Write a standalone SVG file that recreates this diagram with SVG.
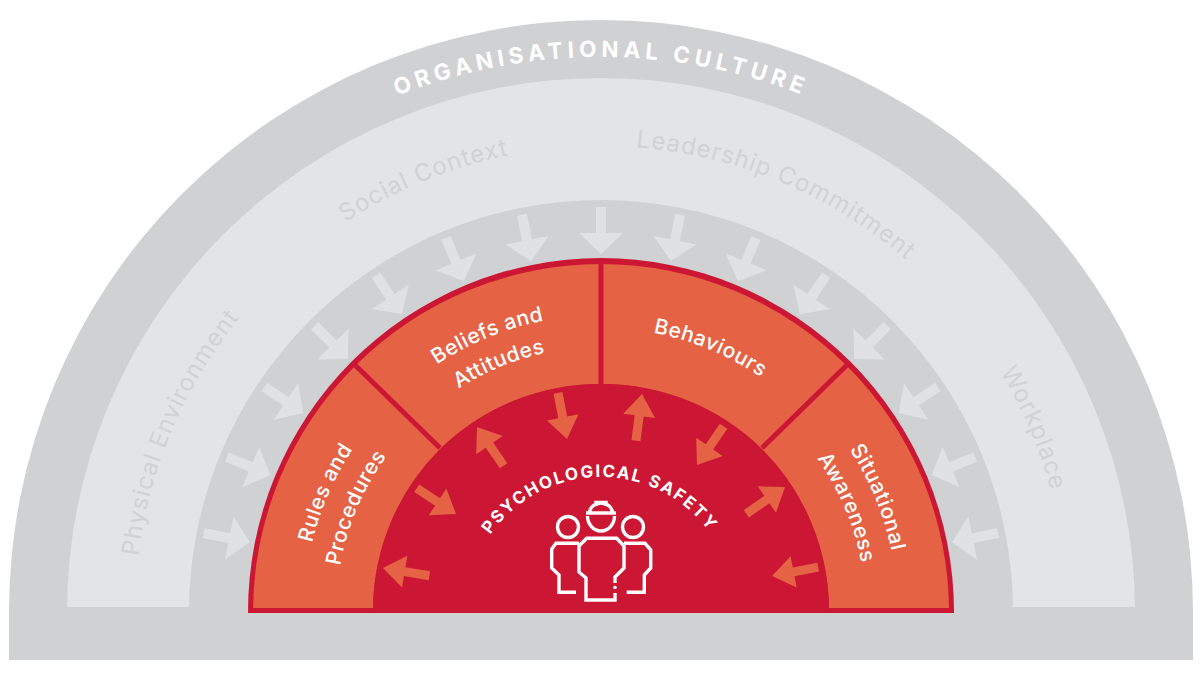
<svg xmlns="http://www.w3.org/2000/svg" xmlns:xlink="http://www.w3.org/1999/xlink" width="1200" height="680" viewBox="0 0 1200 680">
<style>
text{font-family:"Inter","Noto Sans",sans-serif}
.band{fill:#e3e4e6}
.seg{fill:#e66245}
.div{stroke:#cb1733;stroke-width:5;fill:none}
.ctx{fill:#d0d2d4;font-size:24px;letter-spacing:1px;text-anchor:middle}
.lbl{fill:#fff;font-size:21px;font-weight:500;letter-spacing:.5px;text-anchor:middle}
.ic{fill:none;stroke:#fff;stroke-width:3.400}
.ga{fill:#e0e1e3}
.oa{fill:#e66245}
</style>
<defs>
<path id="r555" d="M46,612A555,555 0 0 1 1156,612"/>
<path id="r466" d="M135,612A466,466 0 0 1 1067,612"/>
<path id="r297" d="M304,612A297,297 0 0 1 898,612"/>
<path id="r265" d="M336,612A265,265 0 0 1 866,612"/>
<path id="r284" d="M317,612A284,284 0 0 1 885,612"/>
<path id="r135" d="M466,612A135,135 0 0 1 736,612"/>
<polygon id="gray" points="601,254 579,233 596,233 596,207 606,207 606,233 623,233"/>
<polygon id="orange" points="0,0 -22,-16 -22,-4.5 -47,-4.5 -47,4.5 -22,4.5 -22,16"/>
</defs>

<g id="organisational-culture">
<path fill="#cfd1d3" d="M9,660V612A592,592 0 0 1 1193,612V660Z"/>
<text font-size="22.500" font-weight="700" fill="#fff" letter-spacing="4.800" text-anchor="middle"><textPath href="#r555" startOffset="50%">ORGANISATIONAL CULTURE</textPath></text>
</g>

<g id="context-band">
<path class="band" d="M67,607V612A534,534 0 0 1 1135,612V607H1013V612A412,412 0 0 0 189,612V607Z"/>
<text class="ctx"><textPath href="#r466" startOffset="12.8%">Physical Environment</textPath></text>
<text class="ctx"><textPath href="#r466" startOffset="37.6%">Social Context</textPath></text>
<text class="ctx"><textPath href="#r466" startOffset="62.6%">Leadership Commitment</textPath></text>
<text class="ctx"><textPath href="#r466" startOffset="87.2%">Workplace</textPath></text>
</g>

<g id="core-disc">
<path fill="#cb1733" d="M248,613V612A353,354 0 0 1 954,612V613Z"/>
</g>

<g id="rules-and-procedures">
<path class="seg" d="M253,608V612A348,348 0 0 1 355,366L440,449A228,228 0 0 0 373,608Z"/>
<text class="lbl"><textPath href="#r297" startOffset="13%">Rules and</textPath></text>
<text class="lbl"><textPath href="#r265" startOffset="12.8%">Procedures</textPath></text>
</g>
<g id="beliefs-and-attitudes">
<path class="seg" d="M355,366A348,348 0 0 1 601,264V384A228,228 0 0 0 440,449Z"/>
<text class="lbl"><textPath href="#r297" startOffset="37.6%">Beliefs and</textPath></text>
<text class="lbl"><textPath href="#r265" startOffset="37.6%">Attitudes</textPath></text>
</g>
<g id="behaviours">
<path class="seg" d="M601,264A348,348 0 0 1 847,366L762,449A228,228 0 0 0 601,384Z"/>
<text class="lbl"><textPath href="#r284" startOffset="62.5%">Behaviours</textPath></text>
</g>
<g id="situational-awareness">
<path class="seg" d="M847,366A348,348 0 0 1 949,612V608H829A228,228 0 0 0 762,449Z"/>
<text class="lbl"><textPath href="#r297" startOffset="87.5%">Situational</textPath></text>
<text class="lbl"><textPath href="#r265" startOffset="87.2%">Awareness</textPath></text>
</g>
<g id="dividers">
<path class="div" d="M601,259V384M353,363L440,448M849,363L762,448"/>
</g>

<g id="psychological-safety">
<path fill="#cb1733" d="M373,612A228,228 0 0 1 829,612Z"/>
<text font-size="17" font-weight="700" fill="#fff" letter-spacing="1.900" text-anchor="middle"><textPath href="#r135" startOffset="49.6%">PSYCHOLOGICAL SAFETY</textPath></text>
<g class="ic">
<circle cx="568" cy="527" r="10.5"/>
<circle cx="633" cy="527" r="10.5"/>
<path d="M587.500,516A13.500,15 0 0 0 614.500,516"/>
<path d="M586,513H616M589.500,513A11.500,10 0 0 1 612.500,513M596,506V502.500H606V506"/>
<path d="M615,583V577L624,568V546L616.700,538.300H586.700L579,546V572L586,578V600H615V593"/>
<path d="M579,543.300H556L551.700,549V568L559,575V592.300H576"/>
<path d="M624,543.300H645L650.700,550V568L644.300,575V592.300H626.700"/>
<circle cx="615" cy="587.500" r="1.800" fill="#fff" stroke="none"/>
</g>
</g>

<g id="connectors">
<use href="#gray" class="ga" transform="rotate(-78.75 601 612)"/>
<use href="#gray" class="ga" transform="rotate(-67.5 601 612)"/>
<use href="#gray" class="ga" transform="rotate(-56.25 601 612)"/>
<use href="#gray" class="ga" transform="rotate(-45 601 612)"/>
<use href="#gray" class="ga" transform="rotate(-33.75 601 612)"/>
<use href="#gray" class="ga" transform="rotate(-22.5 601 612)"/>
<use href="#gray" class="ga" transform="rotate(-11.25 601 612)"/>
<use href="#gray" class="ga"/>
<use href="#gray" class="ga" transform="rotate(11.25 601 612)"/>
<use href="#gray" class="ga" transform="rotate(22.5 601 612)"/>
<use href="#gray" class="ga" transform="rotate(33.75 601 612)"/>
<use href="#gray" class="ga" transform="rotate(45 601 612)"/>
<use href="#gray" class="ga" transform="rotate(56.25 601 612)"/>
<use href="#gray" class="ga" transform="rotate(67.5 601 612)"/>
<use href="#gray" class="ga" transform="rotate(78.75 601 612)"/>
<use href="#orange" class="oa" transform="translate(383 568) rotate(189.5)"/>
<use href="#orange" class="oa" transform="translate(456 514) rotate(33.3)"/>
<use href="#orange" class="oa" transform="translate(477 427) rotate(235.6)"/>
<use href="#orange" class="oa" transform="translate(567 439) rotate(78.9)"/>
<use href="#orange" class="oa" transform="translate(642 394) rotate(-82.6)"/>
<use href="#orange" class="oa" transform="translate(697 465) rotate(124.4)"/>
<use href="#orange" class="oa" transform="translate(785 487) rotate(-34.7)"/>
<use href="#orange" class="oa" transform="translate(772 576) rotate(169.2)"/>
</g>
</svg>
